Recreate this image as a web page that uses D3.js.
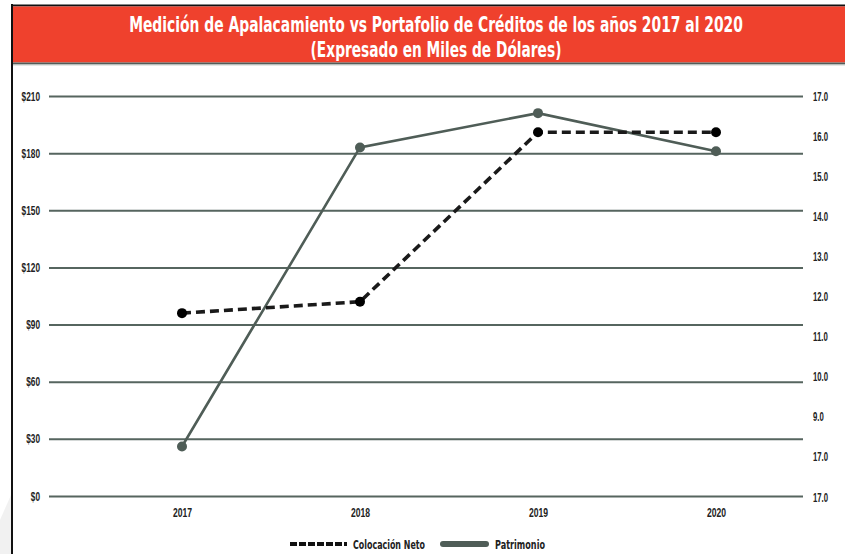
<!DOCTYPE html>
<html>
<head>
<meta charset="utf-8">
<script src="https://cdn.jsdelivr.net/npm/d3@7"></script>
<style>
  html, body { margin: 0; padding: 0; background: #ffffff; }
  svg { display: block; font-family: "DejaVu Sans", sans-serif; }
</style>
</head>
<body>
<svg id="chart" width="845" height="554"></svg>
<script>
// Years on the horizontal axis
const years = ["2017", "2018", "2019", "2020"];
// Series values (thousands of dollars)
const colocacionNeto = [96, 102, 191, 191];
const patrimonio = [26, 183, 201, 181];
// Left axis ticks
const leftTicks = [0, 30, 60, 90, 120, 150, 180, 210];
// Right axis labels, bottom to top
const rightLabels = ["17.0", "17.0", "9.0", "10.0", "11.0", "12.0", "13.0", "14.0", "15.0", "16.0", "17.0"];
const titleLines = [
  "Medición de Apalacamiento vs Portafolio de Créditos de los años 2017 al 2020",
  "(Expresado en Miles de Dólares)"
];
const seriesNames = ["Colocación Neto", "Patrimonio"];

const svg = d3.select("#chart");
const gridColor = "#56655f";
const lineColor = "#4f5d57";

// squeeze text horizontally to get a condensed face
function condense(sel, factor) {
  sel.each(function () {
    const w = this.getComputedTextLength();
    d3.select(this)
      .attr("textLength", (w * factor).toFixed(1))
      .attr("lengthAdjust", "spacingAndGlyphs");
  });
}

// faint backdrop shape at lower left
svg.append("path")
  .attr("d", "M0,554 L0,520 L11,495 L11,554 Z")
  .attr("fill", "#f1f1f1");

// frame
svg.append("line").attr("x1", 12).attr("x2", 12).attr("y1", 4).attr("y2", 554)
  .attr("stroke", "#111").attr("stroke-width", 2);
svg.append("line").attr("x1", 11).attr("x2", 845).attr("y1", 5.5).attr("y2", 5.5)
  .attr("stroke", "#111").attr("stroke-width", 2);

// title band
svg.append("rect").attr("x", 13).attr("y", 6.5).attr("width", 832).attr("height", 56)
  .attr("fill", "#ef412d");
svg.append("rect").attr("x", 13).attr("y", 62.5).attr("width", 832).attr("height", 2)
  .attr("fill", "#525c58");
svg.append("rect").attr("x", 13).attr("y", 64.5).attr("width", 832).attr("height", 1)
  .attr("fill", "#c9cfcc");

// title lines, each squeezed to its width with a horizontal scale
const titleWidths = [614, 251];
titleLines.forEach((t, i) => {
  const g = svg.append("g");
  const txt = g.append("text")
    .attr("x", 0).attr("y", 0)
    .attr("text-anchor", "middle")
    .attr("fill", "#ffffff")
    .attr("font-size", 21.8)
    .attr("font-weight", "bold")
    .text(t);
  const sx = titleWidths[i] / txt.node().getComputedTextLength();
  g.attr("transform", `translate(436,${31.5 + i * 25.5}) scale(${sx.toFixed(4)},1)`);
});

// scales
const x = d3.scalePoint().domain(years).range([182, 716]);
const y = d3.scaleLinear().domain([0, 210]).range([496, 96]);
const yr = d3.scaleLinear().domain([0, rightLabels.length - 1]).range([497, 96]);

// grid lines + left axis
const leftAxis = d3.axisLeft(y)
  .tickValues(leftTicks)
  .tickSize(-754)
  .tickPadding(9)
  .tickFormat(d => "$" + d);
const gl = svg.append("g").attr("transform", "translate(49,0)").call(leftAxis);
gl.select(".domain").remove();
gl.selectAll(".tick line").attr("stroke", gridColor).attr("stroke-width", 2);
gl.selectAll(".tick text")
  .attr("fill", "#222").attr("font-size", 12.5).attr("font-weight", "bold")
  .call(condense, 0.66);

// right axis (labels only)
const rightAxis = d3.axisRight(yr)
  .tickValues(d3.range(rightLabels.length))
  .tickSize(0)
  .tickPadding(0)
  .tickFormat(i => rightLabels[i]);
const gr = svg.append("g").attr("transform", "translate(813,0)").call(rightAxis);
gr.select(".domain").remove();
gr.selectAll(".tick text")
  .attr("fill", "#222").attr("font-size", 12.5).attr("font-weight", "bold")
  .call(condense, 0.62);

// bottom axis labels
const bottomAxis = d3.axisBottom(x).tickSize(0).tickPadding(0);
const gb = svg.append("g").attr("transform", "translate(0,508)").call(bottomAxis);
gb.select(".domain").remove();
gb.selectAll(".tick text")
  .attr("fill", "#222").attr("font-size", 13).attr("font-weight", "bold")
  .call(condense, 0.66);

const line = d3.line().x((d, i) => x(years[i])).y(d => y(d));

// Patrimonio: solid grey line
svg.append("path").datum(patrimonio)
  .attr("d", line)
  .attr("fill", "none")
  .attr("stroke", lineColor)
  .attr("stroke-width", 2.6);
svg.append("g").selectAll("circle").data(patrimonio).join("circle")
  .attr("cx", (d, i) => x(years[i]))
  .attr("cy", d => y(d))
  .attr("r", 5)
  .attr("fill", lineColor);

// Colocación Neto: dashed black line
svg.append("path").datum(colocacionNeto)
  .attr("d", line)
  .attr("fill", "none")
  .attr("stroke", "#1a1a1a")
  .attr("stroke-width", 3.6)
  .attr("stroke-dasharray", "9,5");
svg.append("g").selectAll("circle").data(colocacionNeto).join("circle")
  .attr("cx", (d, i) => x(years[i]))
  .attr("cy", d => y(d))
  .attr("r", 5)
  .attr("fill", "#000");

// legend
const lg = svg.append("g");
lg.append("line").attr("x1", 290).attr("x2", 347).attr("y1", 544).attr("y2", 544)
  .attr("stroke", "#111").attr("stroke-width", 4).attr("stroke-dasharray", "7,2");
lg.append("text").attr("x", 353).attr("y", 548.5).text(seriesNames[0])
  .attr("font-size", 12.5).attr("font-weight", "bold").attr("fill", "#222")
  .attr("textLength", 72).attr("lengthAdjust", "spacingAndGlyphs");
lg.append("line").attr("x1", 443).attr("x2", 486).attr("y1", 544).attr("y2", 544)
  .attr("stroke", lineColor).attr("stroke-width", 6).attr("stroke-linecap", "round");
lg.append("text").attr("x", 495).attr("y", 548.5).text(seriesNames[1])
  .attr("font-size", 12.5).attr("font-weight", "bold").attr("fill", "#222")
  .attr("textLength", 50).attr("lengthAdjust", "spacingAndGlyphs");
</script>
</body>
</html>
